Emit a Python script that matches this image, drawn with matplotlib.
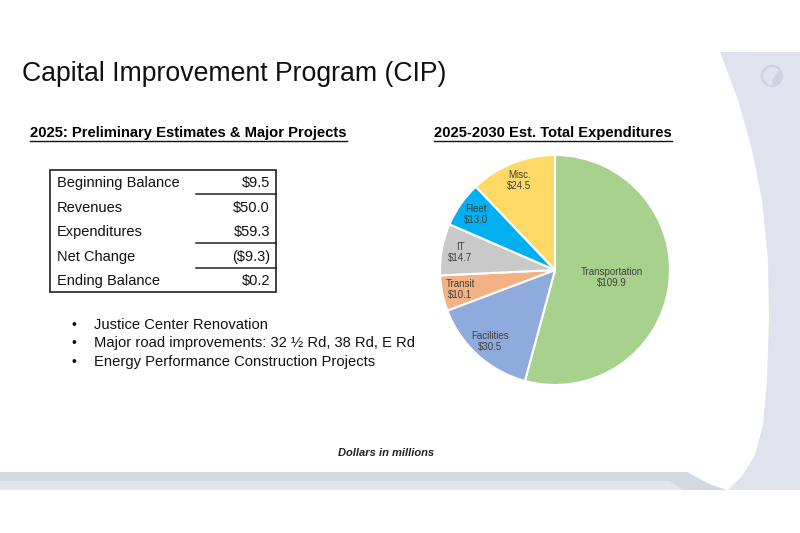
import matplotlib
matplotlib.use("Agg")
import matplotlib.pyplot as plt
from matplotlib.patches import Polygon, Rectangle, Circle
from matplotlib.lines import Line2D
from matplotlib import font_manager
import numpy as np

# ---------------- data ----------------
title = "Capital Improvement Program (CIP)"
left_heading = "2025: Preliminary Estimates & Major Projects"
right_heading = "2025-2030 Est. Total Expenditures"

table_labels = ["Beginning Balance", "Revenues", "Expenditures", "Net Change", "Ending Balance"]
table_values = ["$9.5", "$50.0", "$59.3", "($9.3)", "$0.2"]
table_rules_after = [0, 2, 3]  # rows followed by a rule in the value column

projects = ["Justice Center Renovation",
            "Major road improvements: 32 \u00bd Rd, 38 Rd, E Rd",
            "Energy Performance Construction Projects"]

pie_labels = ["Transportation", "Facilities", "Transit", "IT", "Fleet", "Misc."]
pie_values = [109.9, 30.5, 10.1, 14.7, 13.0, 24.5]
pie_colors = ["#a9d18e", "#8faadc", "#f4b183", "#c9c9c9", "#00b0f0", "#ffd966"]

footnote = "Dollars in millions"

# ---------------- fonts ----------------
names = {f.name for f in font_manager.fontManager.ttflist}
FONT = "Liberation Sans Narrow" if "Liberation Sans Narrow" in names else "Liberation Sans"
BODY = "Liberation Sans"
plt.rcParams["font.family"] = [BODY, "DejaVu Sans"]

W, H = 800, 533
fig = plt.figure(figsize=(W / 100, H / 100), dpi=100)
fig.patch.set_facecolor("white")
bg = fig.add_axes([0, 0, 1, 1])
bg.set_xlim(0, W)
bg.set_ylim(H, 0)
bg.axis("off")

# ---------------- decorations ----------------
gray_region = [(720, 52), (738, 100), (752, 150), (762, 200), (768, 260), (769, 320),
               (767, 380), (763, 425), (755, 455), (742, 476), (728, 490),
               (800, 490), (800, 52)]
bg.add_patch(Polygon(gray_region, closed=True, fc="#e0e3ed", ec="none", zorder=1))
bar_dark = [(0, 472), (687, 472), (700, 479), (712, 485), (727, 490), (0, 490)]
bg.add_patch(Polygon(bar_dark, closed=True, fc="#d3d9e3", ec="none", zorder=1))
bar_light = [(0, 481), (670, 481), (683, 490), (0, 490)]
bg.add_patch(Polygon(bar_light, closed=True, fc="#e2e4ee", ec="none", zorder=1))
bg.add_patch(Circle((772, 76), 10, fc="none", ec="#c9cfdb", lw=1.2, zorder=2))
bg.add_patch(Polygon([(772, 80), (779, 70), (782, 77), (778, 84), (772, 86)],
                     closed=True, fc="#cdd3df", ec="none", zorder=2))

# ---------------- texts ----------------
bg.text(22, 74, title, fontsize=19.2, family=[FONT, "DejaVu Sans"], color="#111111",
        va="center", ha="left", zorder=3)
h1 = bg.text(30, 133, left_heading, fontsize=10.6, fontweight="bold",
             family=[FONT, "DejaVu Sans"], va="center", ha="left", zorder=3)
h2 = bg.text(434, 133, right_heading, fontsize=10.6, fontweight="bold",
             family=[FONT, "DejaVu Sans"], va="center", ha="left", zorder=3)

# table
tx0, tx1, ty0, ty1 = 50, 276, 170, 292
vcol = 196
nrows = len(table_labels)
rh = (ty1 - ty0) / nrows
bg.add_patch(Rectangle((tx0, ty0), tx1 - tx0, ty1 - ty0, fc="none", ec="#222222", lw=1.2, zorder=3))
for i, (lab, val) in enumerate(zip(table_labels, table_values)):
    yc = ty0 + rh * (i + 0.55)
    bg.text(tx0 + 7, yc, lab, fontsize=10.5, va="center", ha="left", color="#111111", zorder=3)
    bg.text(tx1 - 6, yc, val, fontsize=10.5, va="center", ha="right", color="#111111", zorder=3)
for i in table_rules_after:
    y = ty0 + rh * (i + 1)
    bg.add_line(Line2D([vcol, tx1], [y, y], color="#222222", lw=1.1, zorder=3))

# bullets
for i, p in enumerate(projects):
    y = 325 + i * 18.5
    bg.text(72, y, "\u2022", fontsize=10, va="center", ha="left", color="#111111", zorder=3)
    bg.text(94, y, p, fontsize=10.6, va="center", ha="left", color="#111111", zorder=3)

bg.text(386, 453, footnote, fontsize=8, style="italic", fontweight="bold",
        family=[FONT, "DejaVu Sans"], va="center", ha="center", color="#222222", zorder=3)

# ---------------- pie ----------------
cx, cy, R = 555, 270, 115
pad = 1.03
ax = fig.add_axes([(cx - R * pad) / W, (H - cy - R * pad) / H, 2 * R * pad / W, 2 * R * pad / H])
wedges, _ = ax.pie(pie_values, colors=pie_colors, startangle=90, counterclock=False,
                   radius=1, wedgeprops=dict(edgecolor="white", linewidth=1.5))
ax.set_xlim(-pad, pad)
ax.set_ylim(-pad, pad)
ax.set_aspect("equal")
ax.axis("off")
label_r = {"Transportation": 0.5}
for w, lab, v in zip(wedges, pie_labels, pie_values):
    ang = np.deg2rad((w.theta1 + w.theta2) / 2)
    r = label_r.get(lab, 0.84)
    ax.text(r * np.cos(ang), r * np.sin(ang), f"{lab}\n${v:.1f}", ha="center", va="center",
            fontsize=7, color="#404040", linespacing=1.15)

# underline headings
fig.canvas.draw()
rend = fig.canvas.get_renderer()
inv = bg.transData.inverted()
for t in (h1, h2):
    bb = t.get_window_extent(rend)
    (x0, y0), (x1, _) = inv.transform([(bb.x0, bb.y0), (bb.x1, bb.y1)])
    bg.add_line(Line2D([x0, x1], [y0 + 1.0, y0 + 1.0], color="#111111", lw=1.0, zorder=3))

fig.savefig("out.png", dpi=100, facecolor="white")
